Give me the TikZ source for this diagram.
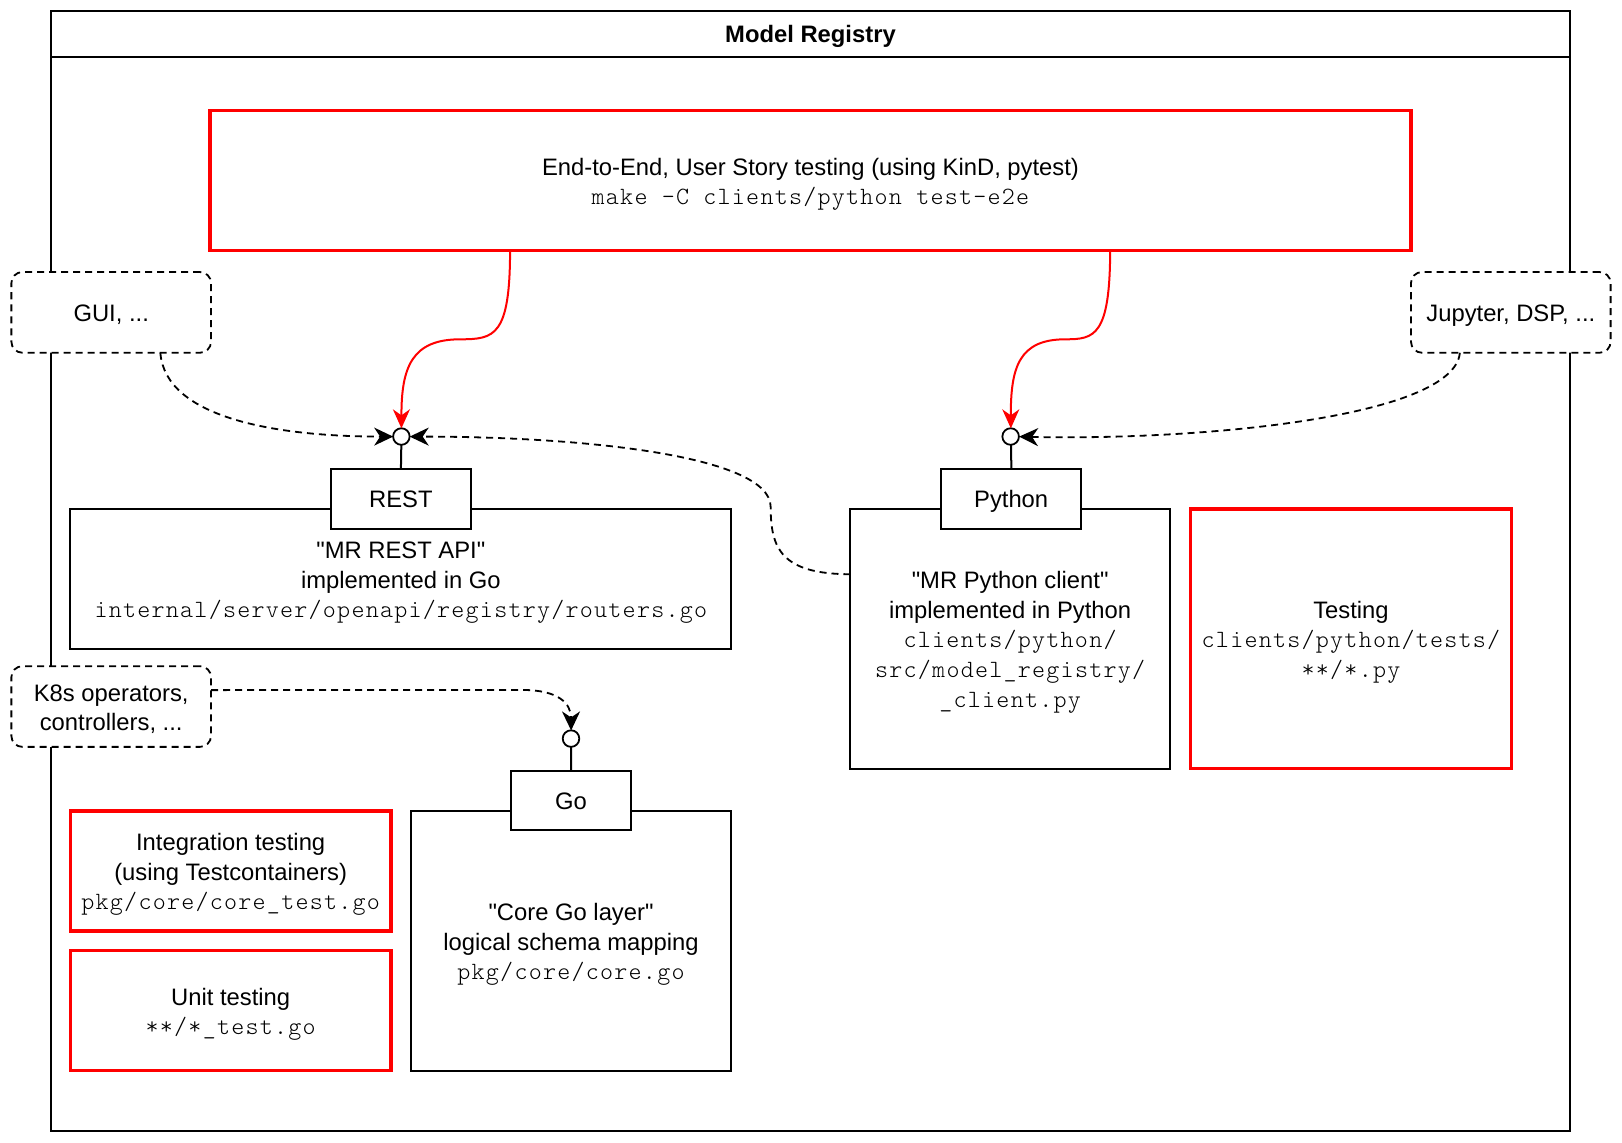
\documentclass[tikz,border=0pt]{standalone}
\usepackage{fontspec}
\setmainfont{Liberation Sans}
\setmonofont{Latin Modern Mono Light}[LetterSpace=5.0]
\usetikzlibrary{arrows.meta}
\newcommand\mrcode[1]{{\ttfamily\fontsize{24}{30}\selectfont #1}}
\newcommand\mrq{\textquotedbl}
\newcommand\mrtext[1]{\raisebox{-3pt}[\height][\depth]{\begin{tabular}{@{}c@{}}#1\end{tabular}}}
\begin{document}
\begin{tikzpicture}[x=1pt,y=-1pt,scale=1.0344,
 every node/.style={transform shape, inner sep=0pt, outer sep=0pt, font=\fontsize{23}{29}\selectfont, align=center},
 box/.style={draw, line width=2pt, fill=white},
 redbox/.style={draw=red, line width=3.5pt, fill=white},
 extbox/.style={draw, line width=1.8pt, dash pattern=on 7pt off 5pt, rounded corners=11pt, fill=white},
 port/.style={draw, circle, line width=1.8pt, minimum size=16pt, fill=white},
 redarrow/.style={draw=red, line width=2pt, -{Stealth[length=19pt,width=17pt,inset=6pt]}},
 usearrow/.style={draw, line width=1.8pt, dash pattern=on 7pt off 5pt, -{Stealth[length=19pt,width=18pt,inset=6pt]}}]
\useasboundingbox (0,0) rectangle (1568,1104);

% container
\node[box, minimum width=1469pt, minimum height=1082pt] (reg) at (783.5,552) {};
\coordinate (tl) at (49,55);
\coordinate (tr) at (1518,55);
\draw[line width=2pt] (tl) -- (tr);
\node[font=\bfseries\fontsize{23}{29}\selectfont] (title) at (783.5,35) {Model Registry};

% top e2e box
\node[redbox, minimum width=1161pt, minimum height=135pt] (e2e) at (783.5,174.5)
 {\mrtext{End-to-End, User Story testing (using KinD, pytest)\\[-1pt]\mrcode{make -C clients/python test-e2e}}};

% external users
\node[extbox, minimum width=193pt, minimum height=78pt] (gui) at (107.5,302) {\mrtext{GUI, ...}};
\node[extbox, minimum width=193pt, minimum height=78pt] (jup) at (1460.5,302) {\mrtext{Jupyter, DSP, ...}};
\node[extbox, minimum width=193pt, minimum height=78pt] (k8s) at (107.5,683) {\mrtext{K8s operators,\\[-1pt]controllers, ...}};

% REST
\node[box, minimum width=639pt, minimum height=135pt] (restbig) at (387.5,559.5)
 {\mrtext{\mrq MR REST API\mrq\\implemented in Go\\[-1pt]\mrcode{internal/server/openapi/registry/routers.go}}};
\node[box, minimum width=135pt, minimum height=58pt] (restsmall) at (387.5,482) {\mrtext{REST}};
\node[port] (restport) at (388,422) {};
\draw[line width=2pt] (restport) -- (restsmall.north);

% Python
\node[box, minimum width=309pt, minimum height=251pt] (pybig) at (976.5,617.5)
 {\mrtext{\mrq MR Python client\mrq\\implemented in Python\\[-1pt]\mrcode{clients/python/}\\\mrcode{src/model\_registry/}\\\mrcode{\_client.py}}};
\node[box, minimum width=135pt, minimum height=58pt] (pysmall) at (977.5,482) {\mrtext{Python}};
\node[port] (pyport) at (977,422) {};
\draw[line width=2pt] (pyport) -- (pysmall.north);

% Testing
\node[redbox, minimum width=310pt, minimum height=251pt] (testing) at (1306,617.5)
 {\mrtext{Testing\\[-1pt]\mrcode{clients/python/tests/}\\\mrcode{**/*.py}}};

% Go
\node[box, minimum width=310pt, minimum height=251pt] (gobig) at (552,909.5)
 {\mrtext{\mrq Core Go layer\mrq\\logical schema mapping\\[-1pt]\mrcode{pkg/core/core.go}}};
\node[box, minimum width=116pt, minimum height=57pt] (gosmall) at (552,773.5) {\mrtext{Go}};
\node[port] (goport) at (552,714) {};
\draw[line width=2pt] (goport) -- (gosmall.north);

% integration / unit testing
\node[redbox, minimum width=310pt, minimum height=116pt] (integ) at (223,842)
 {\mrtext{Integration testing\\(using Testcontainers)\\[-1pt]\mrcode{pkg/core/core\_test.go}}};
\node[redbox, minimum width=310pt, minimum height=116pt] (unit) at (223,977)
 {\mrtext{Unit testing\\[-1pt]\mrcode{**/*\_test.go}}};

% connectors
\coordinate (e2eL) at (493,242);
\coordinate (e2eR) at (1073,242);
\coordinate (guiS) at (155,341);
\coordinate (jupS) at (1411,341);
\coordinate (pyW) at (822,555);
\coordinate (k8sE) at (204,667);

\draw[redarrow] (e2eL) .. controls (493,325) and (478,328) .. (445,328)
  .. controls (398,328) and (388,355) .. (restport.north);
\draw[redarrow] (e2eR) .. controls (1073,325) and (1058,328) .. (1030,328)
  .. controls (985,328) and (977,355) .. (pyport.north);

\draw[usearrow] (guiS) .. controls (160,405) and (270,422) .. (restport.west);
\draw[usearrow] (jupS) .. controls (1405,405) and (1150,426) .. (pyport.east);
\draw[usearrow] (pyW) .. controls (755,555) and (745,530) .. (745,490)
  .. controls (745,440) and (560,422) .. (restport.east);
\draw[usearrow] (k8sE) -- (505,667)
  .. controls (540,667) and (552,680) .. (goport.north);
\end{tikzpicture}
\end{document}
